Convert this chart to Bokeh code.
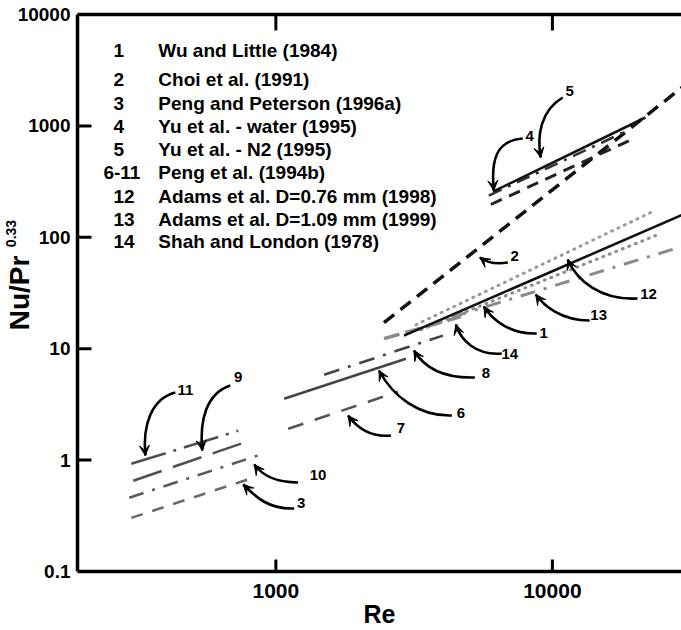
import math
from bokeh.plotting import figure
from bokeh.models import LogAxis, FixedTicker, Label, Arrow, VeeHead, CustomJSTickFormatter
from bokeh.embed import file_html
from bokeh.resources import INLINE

FONT = "Liberation Sans"

# ---------------- data: correlation end points (Re, Nu/Pr^0.33) ----------------
choi_re = [2460, 30000]
choi_nu = [17.1, 2300]
yu_water_re = [6100, 21700]
yu_water_nu = [257, 1190]
yu_n2_re = [5890, 18700]
yu_n2_nu = [237, 908]
yu_n2b_re = [5990, 19660]
yu_n2b_nu = [197, 769]
adams076_re = [2905, 30000]
adams076_nu = [13.1, 162]
adams109_re = [4330, 30000]
adams109_nu = [19.2, 84]
wu_re = [3345, 23600]
wu_nu = [14.8, 103.5]
dotted_re = [3210, 23020]
dotted_nu = [16.4, 170]
shah_re = [2460, 4670]
shah_nu = [12.3, 19.4]
peng6_re = [1071, 2953]
peng6_nu = [3.56, 8.13]
peng7_re = [1108, 2764]
peng7_nu = [1.91, 4.11]
peng8_re = [1494, 4018]
peng8_nu = [5.84, 13.1]
peng9_re = [305, 801]
peng9_nu = [0.653, 1.49]
peng10_re = [295, 900]
peng10_nu = [0.459, 1.14]
peng11_re = [300, 731]
peng11_nu = [0.927, 1.835]
pp3_re = [300, 828]
pp3_nu = [0.303, 0.695]

x_ticks = [1000, 10000]
y_ticks = [0.1, 1, 10, 100, 1000, 10000]

legend_nums = ["1", "2", "3", "4", "5", "6-11", "12", "13", "14"]
legend_names = ["Wu and Little (1984)", "Choi et al. (1991)", "Peng and Peterson (1996a)",
                "Yu et al. - water (1995)", "Yu et al. - N2  (1995)", "Peng et al. (1994b)",
                "Adams et al. D=0.76 mm (1998)", "Adams et al. D=1.09 mm (1999)",
                "Shah and London (1978)"]

# ---------------- layout ----------------
W, H = 681, 630
ML, MT, MB = 76, 14, 59
x_lo, x_hi = 191.7, 29300
y_lo, y_hi = 0.1, 10000

p = figure(width=W, height=H, x_axis_type="log", y_axis_type="log",
           x_range=(x_lo, x_hi), y_range=(y_lo, y_hi),
           output_backend="svg", toolbar_location=None,
           min_border_left=ML, min_border_right=0, min_border_top=MT, min_border_bottom=MB)
p.outline_line_color = None
p.grid.visible = False

# page-pixel helpers (used only for annotation / tick-length placement)
FL, FR = ML, W
FT, FB = MT, H - MB
def rx(px):
    return 10 ** (math.log10(x_lo) + (px - FL) / (FR - FL) * (math.log10(x_hi) - math.log10(x_lo)))
def ny(py):
    return 10 ** (math.log10(y_hi) - (py - FT) / (FB - FT) * (math.log10(y_hi) - math.log10(y_lo)))

fmt = CustomJSTickFormatter(code="return tick < 1 ? tick.toFixed(1) : tick.toFixed(0);")
for ax in (p.xaxis[0], p.yaxis[0]):
    ax.axis_line_width = 3.5
    ax.axis_line_color = "black"
    ax.major_tick_line_color = None
    ax.major_tick_in = 0
    ax.major_tick_out = 0
    ax.minor_tick_in = 0
    ax.minor_tick_out = 0
    ax.major_label_text_font = FONT
    ax.major_label_text_font_style = "bold"
    ax.major_label_text_color = "black"
    ax.axis_label_text_font = FONT
    ax.axis_label_text_font_style = "bold"
    ax.axis_label_text_color = "black"
    ax.formatter = fmt
p.xaxis.ticker = FixedTicker(ticks=x_ticks)
p.xaxis.major_label_text_font_size = "21px"
p.xaxis.major_label_standoff = 12
p.xaxis.axis_label = "Re"
p.xaxis.axis_label_text_font_size = "25px"
p.xaxis.axis_label_standoff = -1
p.yaxis.ticker = FixedTicker(ticks=y_ticks)
p.yaxis.major_label_text_font_size = "19px"
p.yaxis.major_label_standoff = 7
p.yaxis.axis_label = "Nu/Pr"
p.yaxis.axis_label_text_font_size = "28px"
p.yaxis.axis_label_standoff = -20

# superscript of the y title, as a tick label of an extra (invisible) left axis
sup_axis = LogAxis(ticker=FixedTicker(ticks=[ny(233)]),
                   formatter=CustomJSTickFormatter(code="return '0.33';"),
                   axis_line_color=None, major_tick_line_color=None, minor_tick_line_color=None,
                   major_tick_in=0, major_tick_out=0, minor_tick_in=0, minor_tick_out=0,
                   major_label_orientation="vertical", major_label_standoff=-15,
                   major_label_text_font=FONT, major_label_text_font_style="bold",
                   major_label_text_font_size="14px", major_label_text_color="black")
p.add_layout(sup_axis, "left")

top = LogAxis(ticker=FixedTicker(ticks=x_ticks), axis_line_width=3.5, major_tick_line_color=None,
              major_tick_in=0, major_tick_out=0, minor_tick_in=0, minor_tick_out=0,
              formatter=CustomJSTickFormatter(code="return '';"),
              major_label_text_color=None, major_label_standoff=0)
p.add_layout(top, "above")

# inward tick marks at the tick values (head-less Arrow annotations)
def tick(xs, ys, xe, ye):
    p.add_layout(Arrow(end=None, line_color="black", line_width=3,
                       x_start=xs, y_start=ys, x_end=xe, y_end=ye))

for v in y_ticks[1:-1]:
    tick(x_lo, v, rx(FL + 14), v)
for v in x_ticks:
    tick(v, y_lo, v, ny(FB - 12))
    tick(v, y_hi, v, ny(FT + 16))

# ---------------- lines ----------------
def seg(xs, ys, color, width, dash="solid", cap="butt"):
    p.line(xs, ys, line_color=color, line_width=width, line_dash=dash, line_cap=cap)

seg(pp3_re, pp3_nu, "#6a6a6a", 2.6, "12 10")
seg(peng10_re, peng10_nu, "#5a5a5a", 2.6, "15 9 3 9")
seg(peng9_re, peng9_nu, "#505050", 2.6, "30 12")
seg(peng11_re, peng11_nu, "#505050", 2.6, "36 8 3 8")
seg(peng7_re, peng7_nu, "#555555", 2.6, "16 12")
seg(peng6_re, peng6_nu, "#444444", 2.6)
seg(peng8_re, peng8_nu, "#444444", 2.6, "16 9 3 9")
seg(shah_re, shah_nu, "#8a8a8a", 3.5, "16 6")
seg(dotted_re, dotted_nu, "#9a9a9a", 3, "1 6", "round")
seg(wu_re, wu_nu, "#8c8c8c", 3, "1 6", "round")
seg(adams109_re, adams109_nu, "#8a8a8a", 3, "15 9 3 9")
seg(adams076_re, adams076_nu, "#111111", 2.6)
seg(choi_re, choi_nu, "#111111", 3.5, "13 8")
seg(yu_n2b_re, yu_n2b_nu, "#222222", 3, "12 8")
seg(yu_n2_re, yu_n2_nu, "#333333", 2.6, "14 7 3 7")
seg(yu_water_re, yu_water_nu, "#111111", 2.6)

def label(px, py, text, size, align="center"):
    p.add_layout(Label(x=rx(px), y=ny(py), text=text, text_font=FONT, text_font_style="bold",
                       text_font_size=size, text_align=align, text_baseline="middle",
                       text_color="black"))

# legend block
legend_num_x = [112, 112, 112, 112, 112, 102, 112, 112, 112]
legend_row_y = [50, 79, 102.5, 126, 149, 172, 196, 219, 241]
for n, t, nx, yy in zip(legend_nums, legend_names, legend_num_x, legend_row_y):
    label(nx, yy, n, "19px", "left")
    label(157, yy, t, "19px", "left")

# arrows: label text, label pos, curve start, ctrl1, ctrl2, tip (page px)
arrows = [
    ("11", (184, 389), (174, 392), (150, 398), (141, 425), (144, 455)),
    ("9", (237, 376), (229, 385), (205, 393), (198, 420), (201, 450)),
    ("10", (317, 474), (297, 482), (275, 482), (262, 476), (253, 464)),
    ("3", (300, 502), (293, 508), (268, 509), (255, 497), (242, 484)),
    ("7", (400, 427), (390, 435), (368, 437), (355, 426), (347, 415)),
    ("6", (460, 412), (451, 415), (418, 416), (392, 396), (378, 370)),
    ("8", (485, 372), (474, 377), (440, 378), (422, 365), (413, 350)),
    ("14", (509, 353), (501, 353), (475, 355), (460, 340), (455, 324)),
    ("1", (543, 332), (536, 333), (510, 334), (492, 320), (483, 306)),
    ("13", (598, 314), (589, 320), (560, 320), (543, 305), (535, 294)),
    ("12", (648, 293), (637, 298), (600, 300), (576, 280), (567, 259)),
    ("2", (514, 255), (507, 262), (495, 264), (486, 262), (479, 257)),
    ("4", (529, 135), (522, 138), (495, 140), (490, 160), (493, 190)),
    ("5", (569, 90), (562, 97), (540, 110), (536, 135), (540, 157)),
]
for txt, lp, s, c1, c2, t in arrows:
    p.bezier(x0=[rx(s[0])], y0=[ny(s[1])], x1=[rx(t[0])], y1=[ny(t[1])],
             cx0=[rx(c1[0])], cy0=[ny(c1[1])], cx1=[rx(c2[0])], cy1=[ny(c2[1])],
             line_color="black", line_width=2.6)
    dx, dy = t[0] - c2[0], t[1] - c2[1]
    L = math.hypot(dx, dy)
    p.add_layout(Arrow(end=VeeHead(size=10, fill_color="black", line_color="black", line_width=1),
                       line_width=2.6, line_color="black",
                       x_start=rx(t[0] - dx / L * 4), y_start=ny(t[1] - dy / L * 4),
                       x_end=rx(t[0]), y_end=ny(t[1])))
    label(lp[0], lp[1], txt, "15px")

open("out.html", "w").write(file_html(p, INLINE))
